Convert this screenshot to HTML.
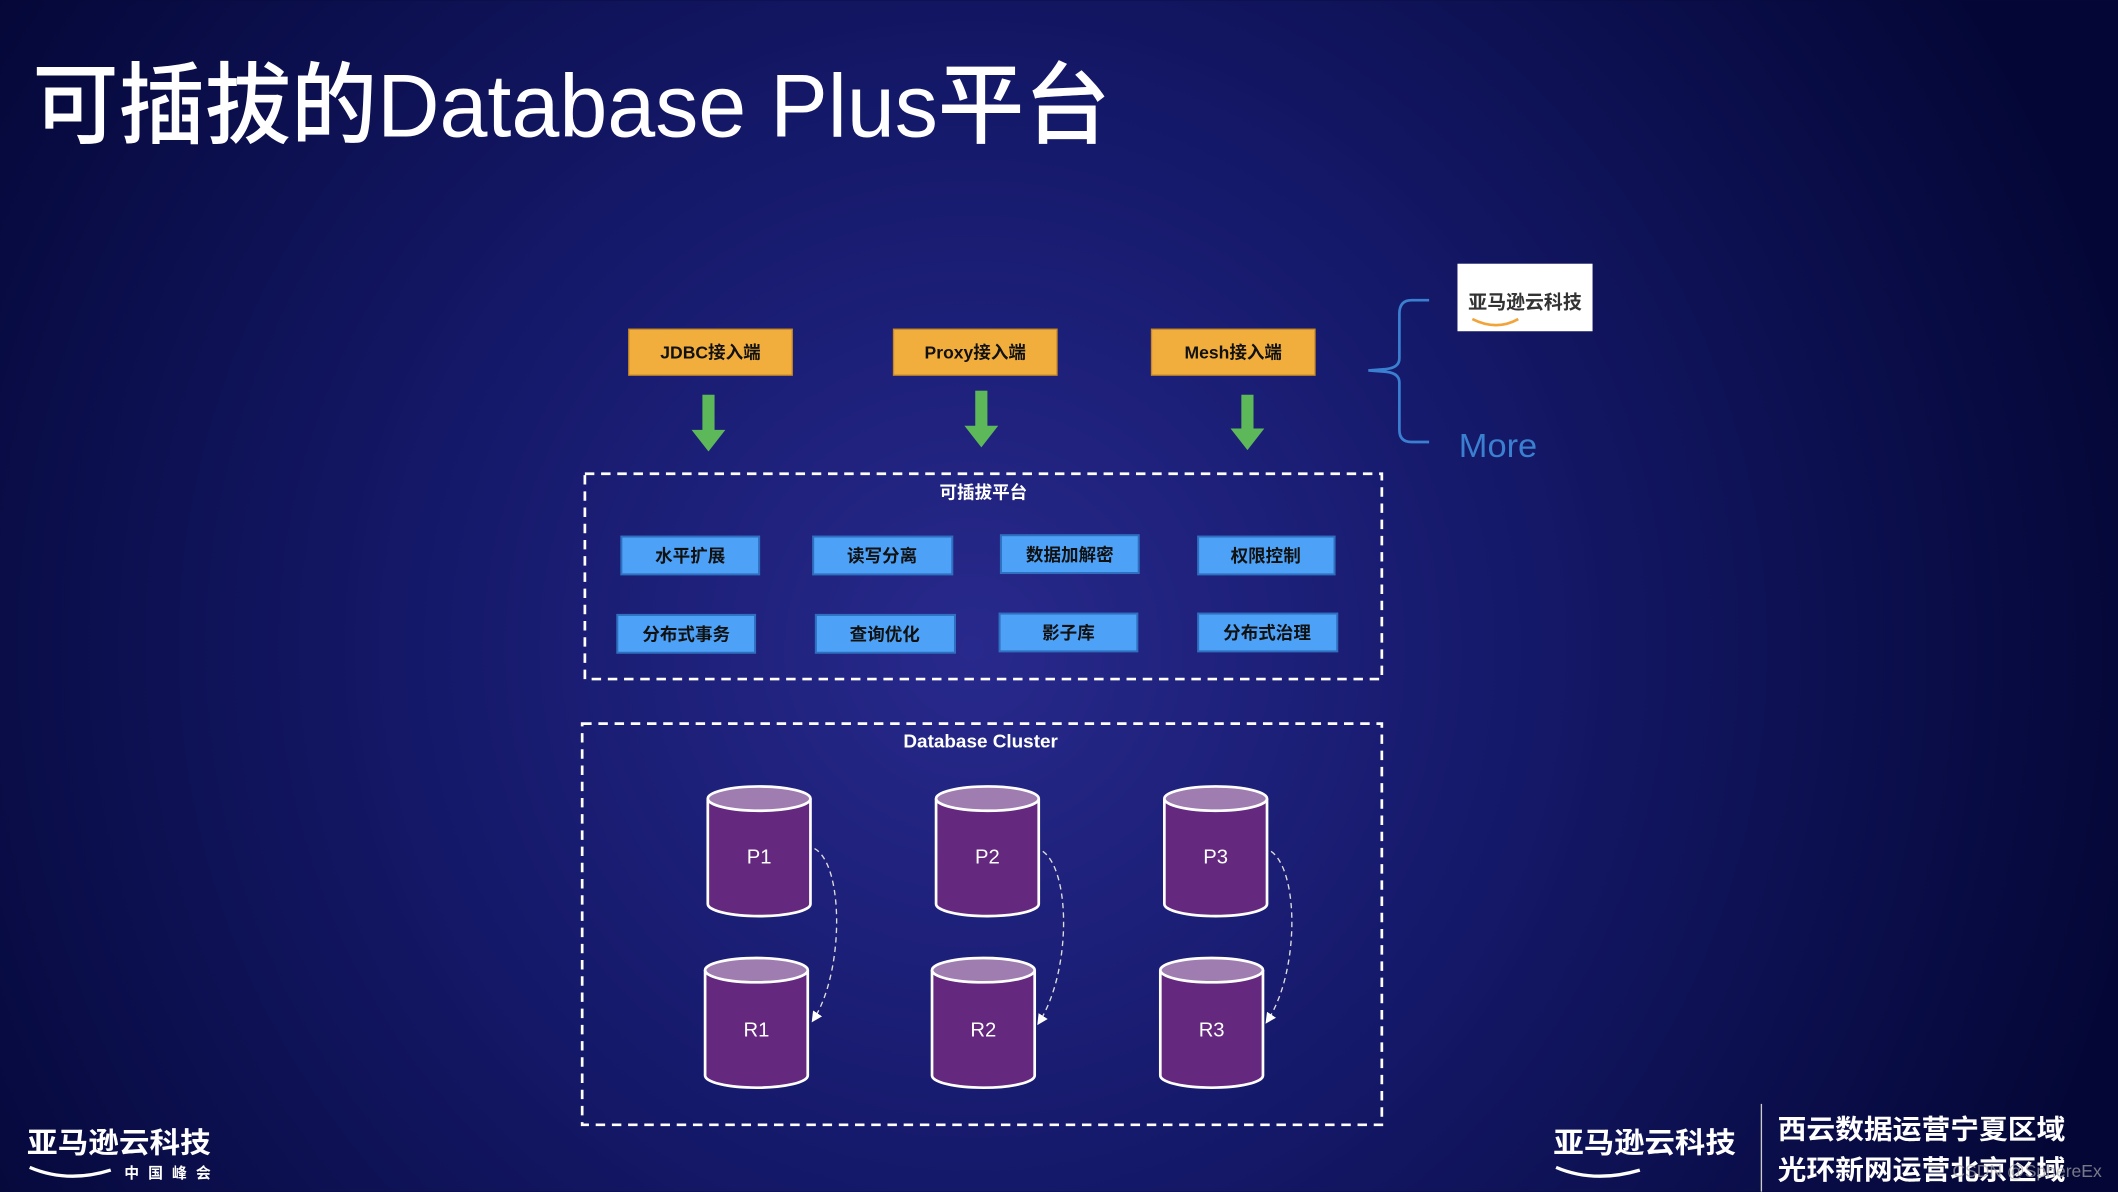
<!DOCTYPE html>
<html><head><meta charset="utf-8"><style>
html,body{margin:0;padding:0;}
body{width:2118px;height:1192px;overflow:hidden;background:#070a35;}
svg{display:block;}
text{font-family:"Liberation Sans","Noto Sans CJK SC",sans-serif;}
</style></head><body>
<svg width="2118" height="1192" viewBox="0 0 1568 882" xmlns="http://www.w3.org/2000/svg">
<defs>
<radialGradient id="bg" cx="720" cy="480" r="880" gradientUnits="userSpaceOnUse">
<stop offset="0" stop-color="#28298c"/><stop offset="0.45" stop-color="#15196a"/><stop offset="1" stop-color="#040736"/>
</radialGradient>
<marker id="ah" markerWidth="8" markerHeight="8" refX="6" refY="4" orient="auto" markerUnits="userSpaceOnUse"><path d="M0,0 L8,4 L0,8 z" fill="#fff"/></marker>
</defs>
<rect width="1568" height="882" fill="url(#bg)"/>
<text x="24" y="101" font-size="66" fill="#fff" font-weight="500" textLength="798" lengthAdjust="spacingAndGlyphs">可插拔的Database Plus平台</text>

<g font-size="13" font-weight="bold" fill="#111" text-anchor="middle">
<rect x="465.5" y="243.5" width="121" height="34" fill="#f2ae3d" stroke="#c98a25"/><text x="526" y="265">JDBC接入端</text>
<rect x="661.5" y="243.5" width="121" height="34" fill="#f2ae3d" stroke="#c98a25"/><text x="722" y="265">Proxy接入端</text>
<rect x="852.5" y="243.5" width="121" height="34" fill="#f2ae3d" stroke="#c98a25"/><text x="913" y="265">Mesh接入端</text>
</g>
<g fill="#5db85a">
<rect x="520" y="292" width="9" height="28"/><path d="M512,318 L537,318 L524.5,334 z"/>
<rect x="722" y="289" width="9" height="28"/><path d="M714,315 L739,315 L726.5,331 z"/>
<rect x="919" y="292" width="9" height="27"/><path d="M911,317 L936,317 L923.5,333 z"/>
</g>
<path d="M1058,222 L1045,222 Q1036,222 1036,232 L1036,265 Q1036,272 1026,273 L1013,274 L1026,275 Q1036,276 1036,283 L1036,318 Q1036,327 1045,327 L1058,327" fill="none" stroke="#3a7fd0" stroke-width="2"/>
<rect x="1079" y="195" width="100" height="50" fill="#fff"/>
<text x="1129" y="228" font-size="14" font-weight="bold" fill="#333" text-anchor="middle">亚马逊云科技</text>
<path d="M1090,236 Q1108,245 1124,236" fill="none" stroke="#f2a43b" stroke-width="2"/>
<text x="1080" y="338" font-size="25" fill="#3a7fd0" textLength="58" lengthAdjust="spacingAndGlyphs">More</text>

<rect x="433" y="350.5" width="590" height="152" fill="none" stroke="#fff" stroke-width="2" stroke-dasharray="7,5"/>
<text x="728" y="369" font-size="13" font-weight="bold" fill="#fff" text-anchor="middle">可插拔平台</text>
<g font-size="13" font-weight="bold" fill="#111" text-anchor="middle" stroke-width="1.5">
<rect x="460" y="397" width="102" height="28" fill="#4da2f7" stroke="#2f6fc0"/><text x="511" y="416">水平扩展</text>
<rect x="602" y="397" width="103" height="28" fill="#4da2f7" stroke="#2f6fc0"/><text x="653" y="416">读写分离</text>
<rect x="741" y="396" width="102" height="28" fill="#4da2f7" stroke="#2f6fc0"/><text x="792" y="415">数据加解密</text>
<rect x="887" y="397" width="101" height="28" fill="#4da2f7" stroke="#2f6fc0"/><text x="937" y="416">权限控制</text>
<rect x="457" y="455" width="102" height="28" fill="#4da2f7" stroke="#2f6fc0"/><text x="508" y="474">分布式事务</text>
<rect x="604" y="455" width="103" height="28" fill="#4da2f7" stroke="#2f6fc0"/><text x="655" y="474">查询优化</text>
<rect x="740" y="454" width="102" height="28" fill="#4da2f7" stroke="#2f6fc0"/><text x="791" y="473">影子库</text>
<rect x="887" y="454" width="103" height="28" fill="#4da2f7" stroke="#2f6fc0"/><text x="938" y="473">分布式治理</text>
</g>

<rect x="431" y="535.5" width="592" height="297" fill="none" stroke="#fff" stroke-width="2" stroke-dasharray="7,5"/>
<text x="726" y="553" font-size="14" font-weight="bold" fill="#fff" text-anchor="middle">Database Cluster</text>
<g stroke="#fff" stroke-width="2">
<path d="M524,591 L524,669 A38,9 0 0 0 600,669 L600,591" fill="#64287e"/><ellipse cx="562" cy="591" rx="38" ry="9" fill="#a07db0"/>
<path d="M693,591 L693,669 A38,9 0 0 0 769,669 L769,591" fill="#64287e"/><ellipse cx="731" cy="591" rx="38" ry="9" fill="#a07db0"/>
<path d="M862,591 L862,669 A38,9 0 0 0 938,669 L938,591" fill="#64287e"/><ellipse cx="900" cy="591" rx="38" ry="9" fill="#a07db0"/>
<path d="M522,718 L522,796 A38,9 0 0 0 598,796 L598,718" fill="#64287e"/><ellipse cx="560" cy="718" rx="38" ry="9" fill="#a07db0"/>
<path d="M690,718 L690,796 A38,9 0 0 0 766,796 L766,718" fill="#64287e"/><ellipse cx="728" cy="718" rx="38" ry="9" fill="#a07db0"/>
<path d="M859,718 L859,796 A38,9 0 0 0 935,796 L935,718" fill="#64287e"/><ellipse cx="897" cy="718" rx="38" ry="9" fill="#a07db0"/>
</g>
<g font-size="15" fill="#fff" text-anchor="middle">
<text x="562" y="639">P1</text><text x="731" y="639">P2</text><text x="900" y="639">P3</text>
<text x="560" y="767">R1</text><text x="728" y="767">R2</text><text x="897" y="767">R3</text>
</g>
<g fill="none" stroke="#ddd" stroke-width="1" stroke-dasharray="4,3" marker-end="url(#ah)">
<path d="M603,628 C625,640 625,720 602,755"/>
<path d="M772,630 C793,645 793,720 769,757"/>
<path d="M941,630 C962,645 962,720 938,756"/>
</g>

<text x="20" y="853" font-size="21" font-weight="bold" fill="#fff" textLength="136" lengthAdjust="spacingAndGlyphs">亚马逊云科技</text>
<path d="M22,864 Q50,876 82,866" fill="none" stroke="#fff" stroke-width="2.5"/>
<text x="92" y="872" font-size="11" font-weight="bold" fill="#fff" textLength="64">中国峰会</text>
<text x="1150" y="853" font-size="21" font-weight="bold" fill="#fff" textLength="135" lengthAdjust="spacingAndGlyphs">亚马逊云科技</text>
<path d="M1152,864 Q1180,876 1214,866" fill="none" stroke="#fff" stroke-width="2.5"/>
<line x1="1304" y1="817" x2="1304" y2="882" stroke="#ccc" stroke-width="1"/>
<text x="1316" y="843" font-size="20" font-weight="bold" fill="#fff" textLength="213" lengthAdjust="spacingAndGlyphs">西云数据运营宁夏区域</text>
<text x="1316" y="873" font-size="20" font-weight="bold" fill="#fff" textLength="213" lengthAdjust="spacingAndGlyphs">光环新网运营北京区域</text>
<text x="1556" y="871" font-size="13" fill="#aaa" text-anchor="end" opacity="0.7">CSDN @SphereEx</text>
</svg>
</body></html>
